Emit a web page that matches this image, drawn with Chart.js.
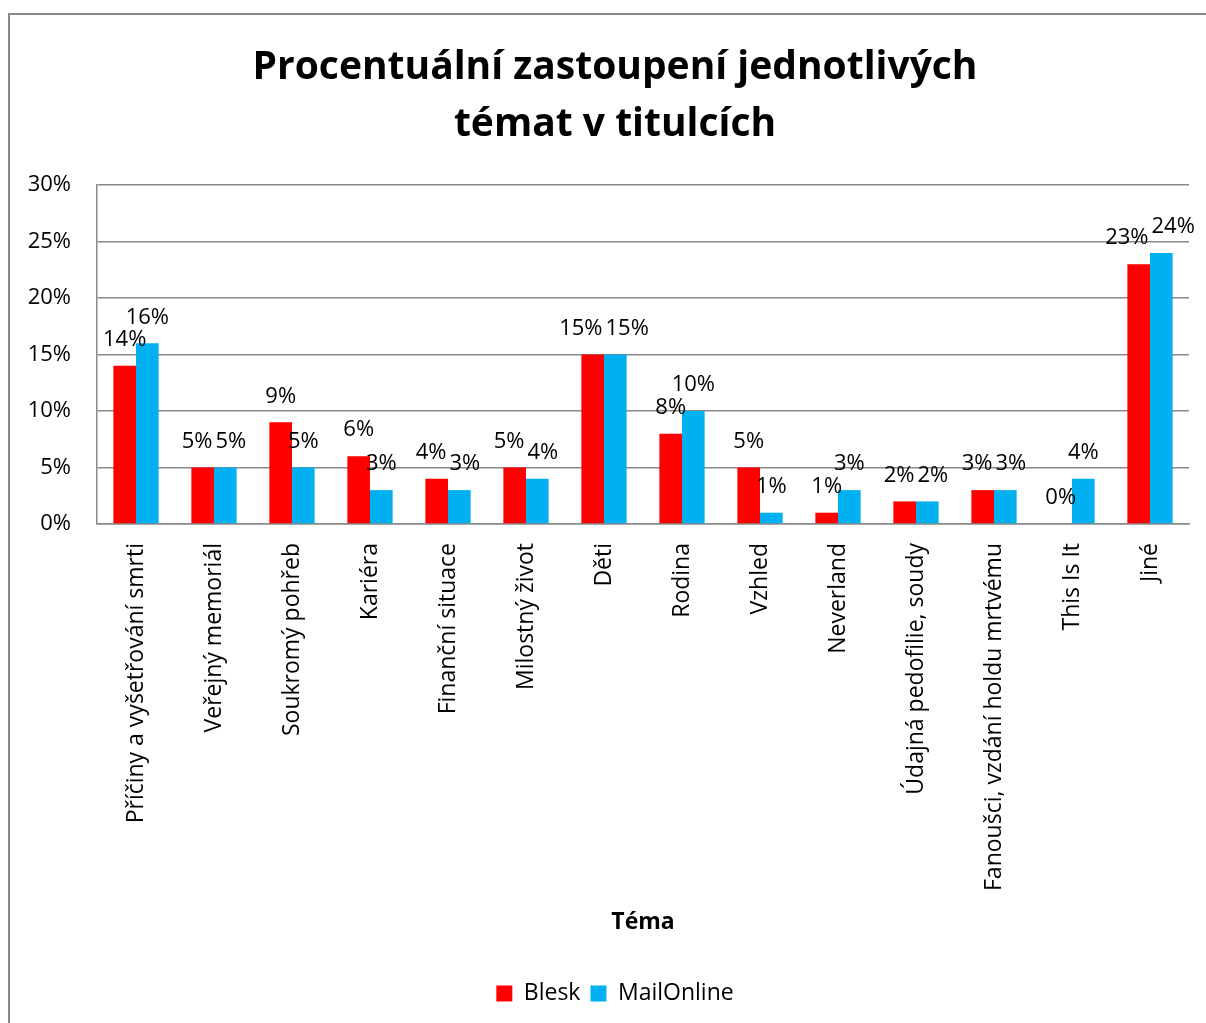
<!DOCTYPE html>
<html>
<head>
<meta charset="utf-8">
<script src="https://cdn.jsdelivr.net/npm/chart.js@4.4.1/dist/chart.umd.min.js"></script>
<style>
html,body{margin:0;padding:0;background:#fff;overflow:hidden;width:1206px;height:1023px;}
canvas{display:block;position:absolute;left:0;top:0;}
</style>
</head>
<body>
<canvas id="c" width="1230" height="1023"></canvas>
<script>
const categories = [
  "Příčiny a vyšetřování smrti",
  "Veřejný memoriál",
  "Soukromý pohřeb",
  "Kariéra",
  "Finanční situace",
  "Milostný život",
  "Děti",
  "Rodina",
  "Vzhled",
  "Neverland",
  "Údajná pedofilie, soudy",
  "Fanoušci, vzdání holdu mrtvému",
  "This Is It",
  "Jiné"
];
const blesk = [14, 5, 9, 6, 4, 5, 15, 8, 5, 1, 2, 3, 0, 23];
const mailOnline = [16, 5, 5, 3, 3, 4, 15, 10, 1, 3, 2, 3, 4, 24];
const yTicks = [0, 5, 10, 15, 20, 25, 30];
const seriesNames = ["Blesk", "MailOnline"];
const titleLines = ["Procentuální zastoupení jednotlivých", "témat v titulcích"];
const xTitle = "Téma";

const FONT = "'Open Sans', Lato, sans-serif";
const GRID = "#8a8a8a";

const bgPlugin = {
  id: "bg",
  beforeDraw(chart) {
    const ctx = chart.ctx;
    ctx.save();
    ctx.fillStyle = "#fff";
    ctx.fillRect(0, 0, chart.width, chart.height);
    ctx.strokeStyle = "#898989";
    ctx.lineWidth = 2;
    ctx.strokeRect(9, 14, 3000, 3000);
    ctx.restore();
  }
};

// value labels above bars; neighbouring labels at similar height are pushed apart
const labelPlugin = {
  id: "valueLabels",
  afterDatasetsDraw(chart) {
    const ctx = chart.ctx;
    ctx.save();
    ctx.font = "22px " + FONT;
    ctx.fillStyle = "#000";
    ctx.textAlign = "center";
    ctx.textBaseline = "middle";
    const ds0 = chart.data.datasets[0], ds1 = chart.data.datasets[1];
    const m0 = chart.getDatasetMeta(0), m1 = chart.getDatasetMeta(1);
    for (let j = 0; j < ds0.data.length; j++) {
      const t0 = ds0.data[j] + "%", t1 = ds1.data[j] + "%";
      const w0 = ctx.measureText(t0).width, w1 = ctx.measureText(t1).width;
      let x0 = m0.data[j].x, x1 = m1.data[j].x;
      const y0 = m0.data[j].y - 26, y1 = m1.data[j].y - 26;
      if (Math.abs(y0 - y1) < 16) {
        const need = (w0 + w1) / 2 + 3 - (x1 - x0);
        if (need > 0) { x0 -= need / 2; x1 += need / 2; }
      }
      ctx.fillText(t0, x0, y0);
      ctx.fillText(t1, x1, y1);
    }
    ctx.restore();
  }
};

new Chart(document.getElementById("c"), {
  type: "bar",
  data: {
    labels: categories,
    datasets: [
      { label: seriesNames[0], data: blesk, backgroundColor: "#FF0000", borderWidth: 0 },
      { label: seriesNames[1], data: mailOnline, backgroundColor: "#00B0F0", borderWidth: 0 }
    ]
  },
  options: {
    responsive: false,
    animation: false,
    devicePixelRatio: 1,
    datasets: { bar: { barPercentage: 1, categoryPercentage: 0.58 } },
    layout: { padding: { left: 20, right: 20, top: 0, bottom: 8 } },
    plugins: {
      tooltip: { enabled: false },
      title: {
        display: true,
        text: titleLines,
        color: "#000",
        font: { family: FONT, size: 39, weight: "bold", lineHeight: 1.45 },
        padding: { top: 40, bottom: 32 }
      },
      legend: {
        position: "bottom",
        labels: {
          color: "#000",
          font: { family: FONT, size: 23 },
          boxWidth: 16,
          boxHeight: 16,
          padding: 10
        }
      }
    },
    scales: {
      x: {
        grid: { display: false },
        border: { display: true, color: GRID, width: 1.5 },
        ticks: {
          color: "#000",
          font: { family: FONT, size: 23 },
          minRotation: 90,
          maxRotation: 90,
          autoSkip: false,
          padding: 11
        },
        title: {
          display: true,
          text: xTitle,
          color: "#000",
          font: { family: FONT, size: 23, weight: "bold", lineHeight: 1.2 },
          padding: { top: 0, bottom: 36 }
        },
        afterFit(scale) { scale.height = 448; }
      },
      y: {
        min: 0,
        max: 30,
        afterBuildTicks(scale) { scale.ticks = yTicks.map(v => ({ value: v })); },
        grid: { color: GRID, lineWidth: 1.5, drawTicks: false },
        border: { display: true, color: GRID, width: 1.5 },
        ticks: {
          color: "#000",
          font: { family: FONT, size: 22 },
          padding: 26,
          callback: v => v + "%"
        },
        afterFit(scale) { scale.width = 77; }
      },
      spacer: {
        type: "linear",
        position: "right",
        display: true,
        grid: { display: false },
        border: { display: false },
        ticks: { display: false },
        afterFit(scale) { scale.width = 21; }
      }
    }
  },
  plugins: [bgPlugin, labelPlugin]
});
</script>
</body>
</html>
